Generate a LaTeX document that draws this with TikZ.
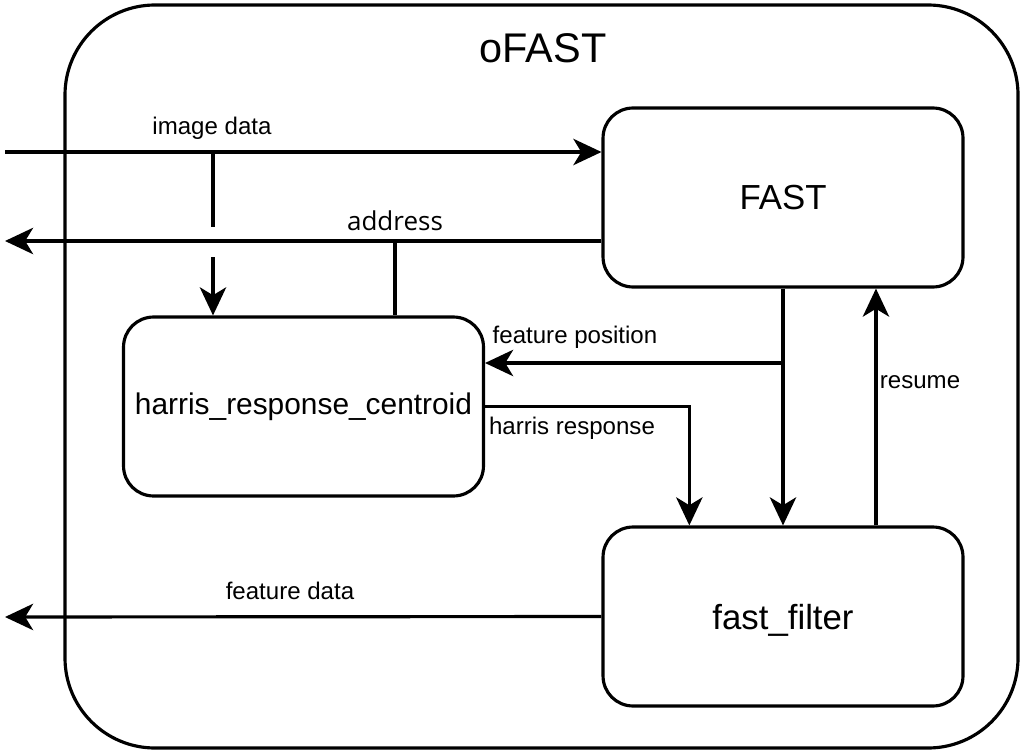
\documentclass[tikz,border=0pt]{standalone}
\usepackage{fontspec}
\setmainfont{Liberation Sans}
\newfontfamily\addrfont{Open Sans}
\usetikzlibrary{arrows.meta, positioning, calc}

\begin{document}
\begin{tikzpicture}[x=0.02cm, y=-0.02cm, line width=1.8pt,
    block/.style={draw, rounded corners=0.6cm, minimum width=7.2cm, minimum height=3.58cm, inner sep=0pt},
    flow/.style={-{Stealth[length=16pt, width=15pt, inset=4.5pt]}},
    lbl/.style={font=\fontsize{13.7}{16}\selectfont}]
    \useasboundingbox (0,0) rectangle (1023,753);

    % ===== Outer block =====
    \draw[rounded corners=1.8cm] (65,5) rectangle (1018,748);
    \node[font=\fontsize{23.6}{28}\selectfont] (title) at (543,48) {oFAST};

    % ===== Blocks =====
    \node[block, font=\fontsize{19.8}{24}\selectfont] (fast) at (783,197.5) {FAST};
    \node[block, font=\fontsize{17}{20}\selectfont] (harris) at (303.5,406.5) {harris\_response\_centroid};
    \node[block, text depth=0pt, font=\fontsize{19.8}{24}\selectfont] (filter) at (783,616.5) {fast\_filter};

    % ===== Image data =====
    \coordinate (imgin) at (5,152);
    \coordinate (imgsplit) at (213,152);
    \draw[flow] (imgin) -- (fast.west |- imgin);
    \node[lbl] (imglbl) at (212,128) {image data};
    \draw (imgsplit) -- ++(0,75);
    \draw[flow] ($(imgsplit)+(0,105)$) -- (imgsplit |- harris.north);

    % ===== Address =====
    \coordinate (addrout) at (5,241);
    \coordinate (addrtap) at (395,241);
    \draw[flow] (fast.west |- addrout) -- (addrout);
    \node[font=\addrfont\fontsize{14.8}{17}\selectfont] (addrlbl) at (395,221) {address};
    \draw (addrtap) -- (addrtap |- harris.north);

    % ===== Feature position =====
    \coordinate (fpsplit) at (fast.south |- 0,363);
    \draw[flow] (fast.south) -- (filter.north);
    \draw[flow] (fpsplit) -- (harris.east |- fpsplit);
    \node[lbl] (fplbl) at (575,337) {feature position};

    % ===== Harris response =====
    \coordinate (hrdrop) at ($(filter.north west)!0.242!(filter.north east)$);
    \draw[flow] (harris.east) -| (hrdrop);
    \node[lbl] (hrlbl) at (572,428) {harris response};

    % ===== Resume =====
    \coordinate (resumebot) at ($(filter.north west)!0.756!(filter.north east)$);
    \draw[flow] (resumebot) -- (resumebot |- fast.south);
    \node[lbl] (reslbl) at (920,382) {resume};

    % ===== Feature data =====
    \coordinate (featout) at (5,617);
    \draw[flow] (filter.west) -- (featout);
    \node[lbl] (fdlbl) at (290,591) {feature data};
\end{tikzpicture}
\end{document}
